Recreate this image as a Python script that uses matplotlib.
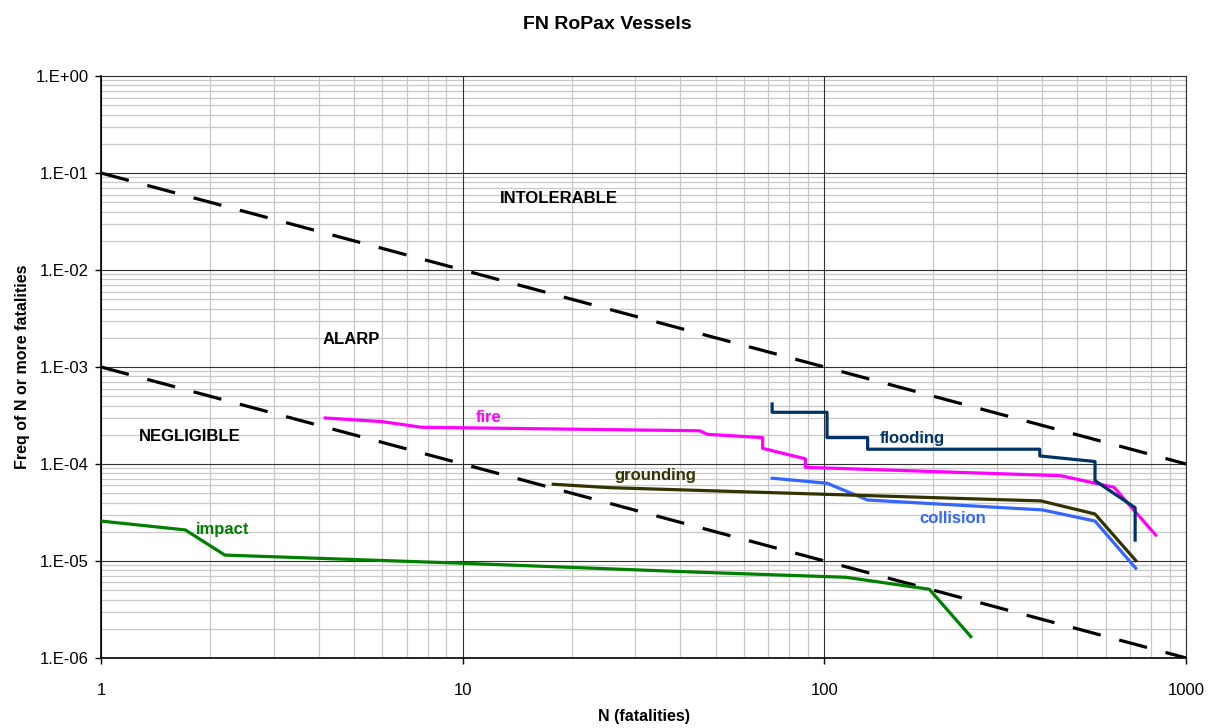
import numpy as np
import matplotlib.pyplot as plt
from matplotlib.ticker import FixedLocator, FixedFormatter, LogLocator, NullFormatter

plt.rcParams['font.family'] = ['Liberation Sans', 'DejaVu Sans']

# datos (N, frecuencia)
fire_n = [4.17, 6.0, 7.69, 45.2, 47.5, 67.5, 67.5, 88.6, 88.6, 450, 632, 824]
fire_f = [2.98e-4, 2.73e-4, 2.39e-4, 2.20e-4, 2.02e-4, 1.87e-4, 1.45e-4, 1.13e-4, 9.24e-5, 7.57e-5, 5.75e-5, 1.85e-5]

flood_n = [71.7, 71.7, 101.7, 101.7, 131.7, 131.7, 394, 394, 560, 560, 723, 723]
flood_f = [4.16e-4, 3.41e-4, 3.41e-4, 1.87e-4, 1.87e-4, 1.42e-4, 1.42e-4, 1.21e-4, 1.06e-4, 6.73e-5, 3.54e-5, 1.64e-5]

coll_n = [71.7, 101.7, 131.7, 401, 560, 726]
coll_f = [7.13e-5, 6.33e-5, 4.25e-5, 3.36e-5, 2.58e-5, 8.41e-6]

ground_n = [17.8, 25.5, 397, 560, 726]
ground_f = [6.18e-5, 5.70e-5, 4.16e-5, 3.05e-5, 1.01e-5]

impact_n = [1.0, 1.71, 2.20, 10.0, 45.2, 114.8, 195, 254]
impact_f = [2.58e-5, 2.09e-5, 1.15e-5, 9.47e-6, 7.65e-6, 6.79e-6, 5.11e-6, 1.66e-6]

# lineas de criterio
crit_n = [1, 1000]
upper_f = [1e-1, 1e-4]
lower_f = [1e-3, 1e-6]

yt = [1e-6, 1e-5, 1e-4, 1e-3, 1e-2, 1e-1, 1]
ylab = ['1.E-06', '1.E-05', '1.E-04', '1.E-03', '1.E-02', '1.E-01', '1.E+00']
xt = [1, 10, 100, 1000]
xlab = ['1', '10', '100', '1000']

fig = plt.figure(figsize=(12.14, 7.28), dpi=100)
ax = fig.add_axes([0.0832, 0.0962, 0.8938, 0.7994])
ax.set_xscale('log')
ax.set_yscale('log')
ax.set_xlim(1, 1000)
ax.set_ylim(1e-6, 1)

# rejilla: menor gris claro, mayor oscura encima
ax.grid(True, which='minor', color='#c8c8c8', linewidth=0.9)
ax.set_axisbelow(True)
for v in xt:
    ax.axvline(v, color='#303030', lw=0.8, zorder=1)
for v in yt:
    ax.axhline(v, color='#303030', lw=0.8, zorder=1)

ax.plot(crit_n, upper_f, color='black', lw=2.3, dashes=(9, 6), zorder=2)
ax.plot(crit_n, lower_f, color='black', lw=2.3, dashes=(9, 6), zorder=2)

ax.plot(fire_n, fire_f, color='#ff00ff', lw=2.3, zorder=3)
ax.plot(flood_n, flood_f, color='#003366', lw=2.3, zorder=3)
ax.plot(coll_n, coll_f, color='#3366ff', lw=2.3, zorder=3)
ax.plot(ground_n, ground_f, color='#333300', lw=2.3, zorder=3)
ax.plot(impact_n, impact_f, color='#008000', lw=2.3, zorder=3)

bold = dict(fontsize=12, fontweight='bold', va='center', ha='center')
ax.text(18.5, 0.054, 'INTOLERABLE', color='black', **bold)
ax.text(4.93, 1.9e-3, 'ALARP', color='black', **bold)
ax.text(1.76, 1.9e-4, 'NEGLIGIBLE', color='black', **bold)
ax.text(11.8, 2.98e-4, 'fire', color='#ff00ff', **bold)
ax.text(175, 1.81e-4, 'flooding', color='#003366', **bold)
ax.text(34.1, 7.52e-5, 'grounding', color='#333300', **bold)
ax.text(226, 2.71e-5, 'collision', color='#3366ff', **bold)
ax.text(2.17, 2.09e-5, 'impact', color='#008000', **bold)

ax.yaxis.set_major_locator(FixedLocator(yt))
ax.yaxis.set_major_formatter(FixedFormatter(ylab))
ax.yaxis.set_minor_locator(LogLocator(base=10, subs=np.arange(2, 10)))
ax.yaxis.set_minor_formatter(NullFormatter())

ax.xaxis.set_major_locator(FixedLocator(xt))
ax.xaxis.set_major_formatter(FixedFormatter(xlab))
ax.xaxis.set_minor_locator(LogLocator(base=10, subs=np.arange(2, 10)))
ax.xaxis.set_minor_formatter(NullFormatter())

ax.tick_params(which='major', direction='out', length=4, width=1, labelsize=12, pad=5)
ax.tick_params(axis='x', which='major', pad=14)
ax.tick_params(which='minor', length=0)
for s in ax.spines.values():
    s.set_color('#303030')
    s.set_linewidth(0.8)
ax.spines['left'].set_color('black')
ax.spines['bottom'].set_color('black')
ax.spines['left'].set_linewidth(1.2)
ax.spines['bottom'].set_linewidth(1.2)

ax.set_xlabel('N (fatalities)', fontsize=11.5, fontweight='bold', labelpad=8)
ax.set_ylabel('Freq of N or more fatalities', fontsize=11.5, fontweight='bold', labelpad=4)
fig.suptitle('FN RoPax Vessels', fontsize=14, fontweight='bold', y=0.978)

fig.savefig('out.png', dpi=100)
